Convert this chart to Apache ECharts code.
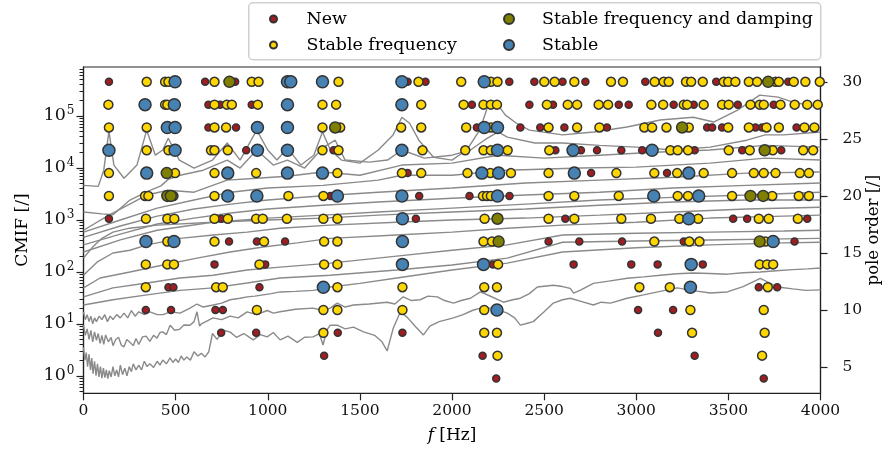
<!DOCTYPE html>
<html><head><meta charset="utf-8">
<script src="https://cdn.jsdelivr.net/npm/echarts@6/dist/echarts.min.js"></script>
<style>html,body{margin:0;padding:0;background:#fff}#c{width:883px;height:458px}</style>
</head><body><div id="c"></div>
<script>
// ---------- pole data: [pole order, [frequencies in Hz]] ----------
const newPoles = [
  [30,[138,660,823,1759,1856,2311,2447,2600,2724,3049,3434,3825]],
  [28,[678,741,913,2108,2420,2548,2905,2959,3203,3312,3551,3746]],
  [26,[678,828,2135,2371,2479,2610,2841,3385,3412,3466,3647,3683,3870]],
  [24,[883,1357,2561,2700,2787,2919,3032,3317,3575,3787]],
  [22,[1759,2755,3167]],
  [20,[1340,1822,2095,2312]],
  [18,[138,747,1804,2615,3526,3602,3928]],
  [16,[790,941,1094,2524,2691,2923,3258,3859]],
  [14,[711,986,2222,2660,2973,3116,3361]],
  [12,[461,488,955,3665,3765]],
  [10,[338,475,716,756,3010,3200]],
  [8,[747,937,1380,1731,3118]],
  [6,[1306,2166,3317]],
  [4,[2240,3692]]
];
const stableFreqPoles = [
  [30,[343,443,461,711,913,950,1384,1818,2050,2211,2247,2501,2557,2664,2863,2928,3100,3149,3176,3270,3298,3361,3475,3499,3538,3611,3656,3756,3774,3855,3918,3996]],
  [28,[135,443,455,711,778,805,946,1297,1371,1833,2063,2171,2211,2244,2515,2628,2679,2796,2847,3082,3146,3258,3276,3366,3466,3502,3620,3670,3692,3783,3860,3928,3985]],
  [26,[138,343,711,774,1297,1393,1724,1833,2077,2211,2524,2679,2800,3044,3086,3164,3285,3499,3611,3707,3774,3913,3967]],
  [24,[343,461,692,711,783,1297,1384,1840,2072,2171,2211,2302,2528,3185,3225,3281,3502,3616,3741,3906,3960]],
  [22,[138,497,711,937,1378,1728,1833,2084,2208,2320,2524,2892,3098,3222,3366,3520,3638,3692,3756,3888,3937]],
  [20,[138,334,352,488,711,1112,1302,2168,2190,2211,2524,2664,2905,3225,3281,3520,3738,3882,3937]],
  [18,[339,455,493,711,783,937,973,1104,1302,1378,2177,2524,2664,2919,3080,3234,3336,3665,3719,3877]],
  [16,[455,711,980,1306,1378,2171,2217,3098,3288,3343,3701]],
  [14,[338,455,491,955,1306,1378,2250,3670,3710,3743]],
  [12,[338,720,756,1378,1731,2175,2244,3017,3182,3714]],
  [10,[941,1302,1378,1731,2175,3294,3692]],
  [8,[1302,2175,2244,3303,3697]],
  [6,[2247,3683]]
];
const stableFreqDampPoles = [
  [30,[792,3716]],
  [26,[1366,3249]],
  [24,[3697]],
  [22,[452]],
  [20,[455,474,3620,3689]],
  [18,[2247]],
  [16,[2253,3670]]
];
const stablePoles = [
  [30,[497,1107,1125,1297,1728,2175]],
  [28,[334,493,1107,1728]],
  [26,[455,497,944,1107,2175,2247]],
  [24,[138,497,944,1107,1728,2247,2657,3086]],
  [22,[343,783,1107,1297,2162,2253,2664,3285]],
  [20,[783,941,1378,1728,2247,3095,3339]],
  [18,[1731,3285]],
  [16,[339,491,1731,3743]],
  [14,[1731,2171,3298]],
  [12,[1302,3294]],
  [10,[2244]]
];

// ---------- CMIF curves: [frequency Hz, CMIF value] ----------
const cmif1 = [[0,4.6e3],[80,4.4e3],[110,9.0e3],[138,5.1e4],[165,1.13e4],[220,6.3e3],[290,1.13e4],[343,5.3e4],[390,1.75e4],[430,2.2e4],[460,3.7e4],[520,1.41e4],[600,9.9e3],[700,1.41e4],[780,3.0e4],[850,1.41e4],[940,5.3e4],[1000,2.2e4],[1050,1.41e4],[1107,2.4e4],[1180,1.13e4],[1250,1.75e4],[1297,4.9e4],[1340,2.2e4],[1400,1.41e4],[1500,1.23e4],[1600,2.2e4],[1680,4.3e4],[1728,9.4e4],[1770,7.2e4],[1820,3.4e4],[1900,1.6e4],[2000,1.41e4],[2080,2.2e4],[2150,5.3e4],[2200,1.75e5],[2250,1.61e5],[2290,1.03e5],[2350,7.2e4],[2420,5.3e4],[2600,4.3e4],[2770,4.9e4],[2950,6.1e4],[3130,8.3e4],[3310,9.4e4],[3420,7.6e4],[3550,1.29e5],[3670,2.5e5],[3770,2.29e5],[3850,1.83e5],[4000,1.47e5]];
const cmif2 = [[0,1.41e3],[100,1.3e3],[160,1.25e3],[252,2.4e3],[345,3.5e3],[420,4.5e3],[460,6.0e3],[524,7.2e3],[650,9.0e3],[780,1.41e4],[850,9.9e3],[940,2.2e4],[1030,1.13e4],[1107,1.41e4],[1200,9.9e3],[1297,2.4e4],[1366,3.4e4],[1420,1.41e4],[1550,1.29e4],[1650,1.41e4],[1728,2.2e4],[1850,1.54e4],[2000,1.75e4],[2100,2.2e4],[2175,3.4e4],[2250,4.9e4],[2300,3.9e4],[2450,3.0e4],[2600,3.0e4],[2800,2.7e4],[3000,2.5e4],[3200,2.2e4],[3400,2.5e4],[3600,3.4e4],[3700,4.3e4],[3800,4.3e4],[4000,4.9e4]];
const cmif3 = [[0,630],[138,1.23e3],[343,3.0e3],[460,3.7e3],[600,3.4e3],[780,5.8e3],[940,6.3e3],[1107,6.9e3],[1297,8.3e3],[1500,7.2e3],[1728,1.13e4],[2000,1.23e4],[2250,1.75e4],[2500,1.54e4],[2800,1.75e4],[3100,2.0e4],[3400,2.2e4],[3700,2.7e4],[4000,2.5e4]];
const cmif4 = [[0,580],[200,990],[400,1.68e3],[600,2.4e3],[800,3.4e3],[1000,4.1e3],[1300,4.6e3],[1600,5.8e3],[1728,7.2e3],[2000,7.2e3],[2300,9.0e3],[2700,9.9e3],[3000,1.03e4],[3400,1.23e4],[3700,1.54e4],[4000,1.41e4]];
const cmif5 = [[0,460],[200,760],[400,1.18e3],[600,1.61e3],[800,2.0e3],[1000,2.4e3],[1300,2.9e3],[1600,3.4e3],[2000,4.1e3],[2400,5.1e3],[2800,5.8e3],[3200,6.6e3],[3600,7.9e3],[4000,8.3e3]];
const cmif6 = [[0,330],[200,530],[400,830],[600,1.08e3],[800,1.35e3],[1000,1.61e3],[1300,1.9e3],[1600,2.2e3],[2000,2.6e3],[2400,3.0e3],[2800,3.4e3],[3200,4.1e3],[3600,4.6e3],[4000,5.1e3]];
const cmif7 = [[0,240],[200,410],[400,630],[700,900],[1000,1.08e3],[1300,1.23e3],[1600,1.41e3],[2000,1.68e3],[2400,2.0e3],[2800,2.4e3],[3200,2.7e3],[3600,3.0e3],[4000,3.4e3]];
const cmif8 = [[0,183],[50,300],[100,440],[160,580],[250,690],[400,790],[700,900],[1000,990],[1300,1.08e3],[1600,1.23e3],[2000,1.41e3],[2400,1.61e3],[2800,1.9e3],[3200,2.2e3],[3600,2.4e3],[4000,2.4e3]];
const cmif9 = [[0,86],[73,153],[160,230],[252,260],[345,330],[524,440],[704,510],[888,580],[1067,690],[1339,790],[1700,900],[2000,990],[2400,1.08e3],[2800,1.23e3],[3200,1.41e3],[3600,1.61e3],[4000,1.75e3]];
const cmif10 = [[0,49],[90,76],[252,99],[432,135],[616,183],[796,240],[975,300],[1160,360],[1339,440],[1700,510],[2000,580],[2300,690],[2600,790],[3000,900],[3400,1.08e3],[3800,1.18e3],[4000,1.23e3]];
const cmif11 = [[0,33],[160,49],[345,61],[524,76],[704,86],[888,108],[1067,123],[1339,147],[1700,200],[2000,260],[2300,330],[2600,510],[3000,550],[3400,580],[3800,610],[4000,630]];
const cmif12 = [[0,23],[160,29],[345,36],[524,44],[704,49],[888,61],[1067,76],[1339,86],[1700,108],[2000,135],[2300,183],[2600,370],[3000,390],[3400,410],[3800,430],[4000,440]];
const cmif13 = [[0,17],[10,12],[20,15],[30,11],[40,14],[50,10],[60,13],[70,11],[85,14],[100,12],[115,15],[130,11],[145,14],[160,12],[180,15],[200,13],[220,16],[240,13],[260,18],[280,14],[300,17],[330,15],[360,17],[400,15],[432,15],[470,17],[524,16],[578,20],[616,24],[650,21],[704,23],[750,25],[796,29],[850,31],[888,33],[930,34],[975,36],[1020,38],[1067,41],[1150,42],[1246,44],[1300,47],[1339,51],[1500,60],[1700,76],[2000,108],[2300,147],[2600,240],[3000,290],[3400,330],[3800,360],[4000,370]];
const cmif14 = [[0,9.4],[10,6],[20,8],[30,5],[40,7.5],[50,4.5],[60,7],[70,4.8],[80,6.5],[90,4.2],[100,6],[110,4],[120,6.1],[135,4.5],[150,5.5],[160,3.8],[175,5],[190,5.5],[205,3.9],[220,3.6],[235,5],[252,4.4],[270,3.8],[285,5.2],[300,4.0],[320,5.6],[340,5.8],[360,4.6],[380,6],[399,5.3],[415,6.8],[430,7.0],[450,6.2],[470,9.4],[495,7.5],[520,7.8],[545,9.5],[578,9.4],[600,11],[616,17],[630,9],[640,10],[703,13],[750,12],[796,14],[840,13],[888,17],[940,15],[997,18],[1030,16],[1067,17],[1150,19],[1246,20],[1300,18],[1339,20],[1377,25],[1420,21],[1465,23],[1550,24],[1648,26],[1690,24],[1735,33],[1780,28],[1827,29],[1870,34],[1920,33],[1960,28],[2008,25],[2050,28],[2100,31],[2154,41],[2200,35],[2279,26],[2330,29],[2371,31],[2420,38],[2463,51],[2550,55],[2600,52],[2642,48],[2660,39],[2700,45],[2767,60],[2850,66],[2952,75],[3040,80],[3131,86],[3220,92],[3310,95],[3400,93],[3494,90],[3580,96],[3673,99],[3760,105],[3850,110],[3930,114],[4000,118]];
const cmif15 = [[0,3.5],[8,2.0],[15,2.8],[22,1.5],[30,2.6],[38,1.3],[45,2.2],[52,1.1],[60,1.9],[68,1.0],[76,1.7],[84,0.95],[92,1.5],[100,0.9],[108,1.4],[116,0.92],[124,1.3],[132,0.88],[140,1.25],[150,0.95],[160,1.5],[170,1.0],[180,1.3],[190,0.95],[200,1.6],[212,1.05],[224,1.4],[236,1.0],[248,1.5],[260,1.2],[270,1.7],[285,1.3],[300,1.6],[315,1.3],[330,1.9],[345,1.5],[360,1.7],[380,1.45],[400,1.9],[415,1.6],[430,2.0],[450,1.7],[470,2.2],[485,1.8],[500,2.1],[515,1.8],[530,2.4],[545,2.0],[560,2.3],[580,2.0],[600,2.9],[620,2.4],[640,2.7],[660,2.3],[680,2.9],[700,6.5],[725,5.0],[760,7.5],[796,6.9],[830,5.5],[870,6.5],[921,4.9],[960,6.2],[997,5.6],[1030,6.8],[1067,4.9],[1110,5.8],[1160,4.4],[1200,5.5],[1246,5.6],[1280,6.5],[1300,3.9],[1320,7.5],[1339,9.4],[1377,9.4],[1420,8.0],[1465,8.6],[1520,7.0],[1580,6.0],[1620,4.5],[1648,3.0],[1680,8.0],[1720,17],[1760,13],[1800,9.0],[1845,6.1],[1880,9],[1930,11],[2008,13],[2060,15],[2110,18],[2154,20],[2225,20],[2300,16],[2340,13],[2371,9.4],[2400,10],[2441,11],[2500,17],[2550,25],[2600,29],[2642,31],[2700,27],[2767,23],[2810,26],[2860,25],[2950,31],[3040,36],[3130,42],[3223,49],[3300,44],[3402,39],[3494,41],[3580,52],[3673,75],[3720,62],[3766,51],[3850,47],[3920,44],[4000,45]];
const cmifCurves = [cmif1,cmif2,cmif3,cmif4,cmif5,cmif6,cmif7,cmif8,cmif9,cmif10,cmif11,cmif12,cmif13,cmif14,cmif15];

// ---------- axis ticks ----------
const logMajor = [1,10,100,1000,10000,100000];
const logMinor = [];
[0.1,1,10,100,1000,10000,100000].forEach(function(d){ for (let m=2;m<=9;m++) logMinor.push(+(m*d).toPrecision(3)); });
const orderTicks = [5,10,15,20,25,30];

const FONT = 'DejaVu Serif';
function flat(rows){ const out=[]; rows.forEach(function(r){ r[1].forEach(function(f){ out.push([f,r[0]]); }); }); return out; }

const chart = echarts.init(document.getElementById('c'), null, {renderer:'canvas'});
const lineSeries = cmifCurves.map(function(d){
  return {type:'line', data:d, xAxisIndex:0, yAxisIndex:0, showSymbol:false, symbol:'none', silent:true,
    lineStyle:{color:'#8a8a8a', width:1.4}, z:1, animation:false};
});
function scatter(name, rows, color, size){
  return {type:'scatter', name:name, data:flat(rows), xAxisIndex:0, yAxisIndex:1, symbol:'circle', symbolSize:size,
    itemStyle:{color:color, borderColor:'#333', borderWidth:1.5, opacity:1}, z:5, animation:false};
}
const legendText = {fontFamily:FONT, fontSize:17.4, color:'#000', lineHeight:20};
chart.setOption({
  animation:false,
  backgroundColor:'#fff',
  grid:{left:83.5, right:62.5, top:67, bottom:64.7, outerBoundsMode:'none', containLabel:false, show:true, borderColor:'#222', borderWidth:1.2, backgroundColor:'transparent'},
  graphic:[{type:'rect', left:248, top:2, shape:{width:572, height:57, r:4}, style:{fill:'rgba(255,255,255,0.8)', stroke:'#d0d0d0', lineWidth:1.5}, z:0}],
  legend:[
    {data:['New','Stable frequency'], orient:'vertical', left:269, top:9, padding:0, itemGap:6, itemWidth:56, itemHeight:7, textStyle:legendText, selectedMode:false},
    {data:['Stable frequency and damping','Stable'], orient:'vertical', left:503, top:9, padding:0, itemGap:6, itemWidth:56, itemHeight:10, textStyle:legendText, selectedMode:false}
  ],
  xAxis:[{type:'value', min:0, max:4000, interval:500,
    name:'{i|f} [Hz]', nameLocation:'middle', nameGap:34,
    nameTextStyle:{fontFamily:FONT, fontSize:17, color:'#000', rich:{i:{fontFamily:FONT, fontStyle:'italic', fontSize:17, color:'#000'}}},
    axisLine:{lineStyle:{color:'#222', width:1.2}}, axisTick:{length:7, lineStyle:{color:'#222', width:1.2}},
    axisLabel:{margin:10, fontFamily:FONT, fontSize:15.5, color:'#111', formatter:function(v){ return String(v); }}, splitLine:{show:false}}],
  yAxis:[
    {type:'log', min:0.46, max:8.7e5, position:'left',
      name:'CMIF [/]', nameLocation:'middle', nameGap:52, nameRotate:90,
      nameTextStyle:{fontFamily:FONT, fontSize:17, color:'#000'},
      axisLine:{show:true, lineStyle:{color:'#222', width:1.2}},
      axisTick:{show:true, length:7, customValues:logMajor, lineStyle:{color:'#222', width:1.2}},
      axisLabel:{margin:9, customValues:logMajor, formatter:function(v){ return '{b|10}{s|' + Math.round(Math.log10(v)) + '}'; },
        rich:{b:{fontFamily:FONT, fontSize:17.5, color:'#111'}, s:{fontFamily:FONT, fontSize:12, color:'#111', padding:[0,0,10,1]}}},
      splitLine:{show:false}, minorTick:{show:false}, minorSplitLine:{show:false}},
    {type:'value', min:2.7, max:31.3, position:'right',
      name:'pole order [/]', nameLocation:'middle', nameGap:45, nameRotate:90, nameMoveOverlap:false,
      nameTextStyle:{fontFamily:FONT, fontSize:16.5, color:'#000'},
      axisLine:{show:true, lineStyle:{color:'#222', width:1.2}},
      axisTick:{show:true, length:7, customValues:orderTicks, lineStyle:{color:'#222', width:1.2}},
      axisLabel:{margin:22, customValues:orderTicks, fontFamily:FONT, fontSize:15.5, color:'#111'},
      splitLine:{show:false}},
    {type:'log', min:0.46, max:8.7e5, position:'left',
      axisLine:{show:false}, axisLabel:{show:false}, splitLine:{show:false},
      axisTick:{show:true, length:4, customValues:logMinor, lineStyle:{color:'#222', width:1}}}
  ],
  series: lineSeries.concat([
    scatter('New', newPoles, '#a11d21', 7),
    scatter('Stable frequency', stableFreqPoles, '#ffd700', 9),
    scatter('Stable frequency and damping', stableFreqDampPoles, '#808000', 11),
    scatter('Stable', stablePoles, '#4682b4', 12)
  ])
});
</script></body></html>
